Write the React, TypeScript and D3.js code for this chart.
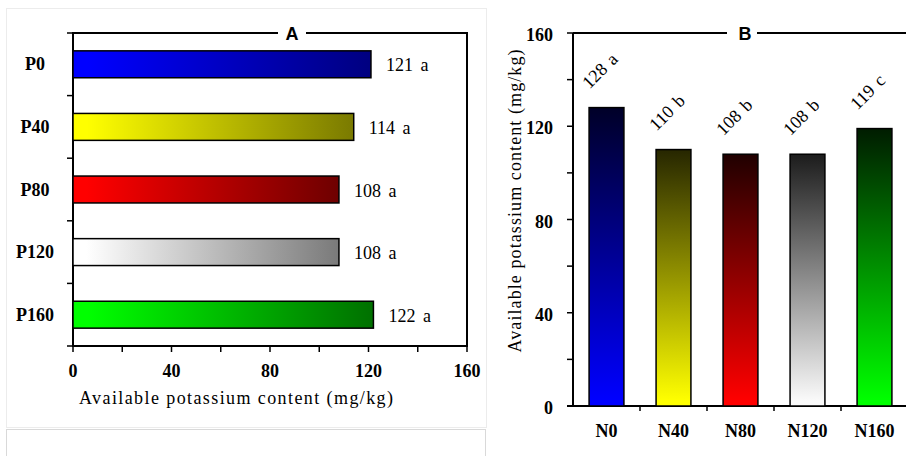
import React from 'react';
import * as d3 from 'd3';

// Panel A: phosphorus levels (horizontal bars)
const pCategories = ['P0', 'P40', 'P80', 'P120', 'P160'];
const pValues = [121, 114, 108, 108, 122];
const pLetters = ['a', 'a', 'a', 'a', 'a'];

// Panel B: nitrogen levels (vertical bars)
const nCategories = ['N0', 'N40', 'N80', 'N120', 'N160'];
const nValues = [128, 110, 108, 108, 119];
const nLetters = ['a', 'b', 'b', 'b', 'c'];

const majorTicks = [0, 40, 80, 120, 160];
const minorTicks = [20, 60, 100, 140];

// bright -> dark colour pairs for each bar
const BRIGHT = ['#0000ff', '#ffff00', '#ff0000', '#ffffff', '#00ff00'];
const DARK_A = ['#000080', '#7a7a00', '#6e0000', '#7a7a7a', '#007000'];
const DARK_B = ['#000028', '#262600', '#200000', '#1c1c1c', '#001c00'];

const SERIF = '"Liberation Serif", "Times New Roman", serif';
const SANS = '"Liberation Sans", Arial, sans-serif';

const App: React.FC = () => {
  // ---- panel A geometry
  const aLeft = 73, aRight = 467, aTop = 33, aBottom = 346;
  const xA = d3.scaleLinear().domain([0, 160]).range([aLeft, aRight]);
  const yA = d3.scaleBand<string>().domain(pCategories).range([aTop, aBottom]).paddingInner(0.57).paddingOuter(0.285);
  const bandA = (aBottom - aTop) / pCategories.length;

  // ---- panel B geometry
  const bLeft = 573, bRight = 908, bTop = 33, bBottom = 406;
  const yB = d3.scaleLinear().domain([0, 160]).range([bBottom, bTop]);
  const xB = d3.scaleBand<string>().domain(nCategories).range([bLeft, bRight]).paddingInner(0.48).paddingOuter(0.24);
  const bandB = (bRight - bLeft) / nCategories.length;

  return (
    <svg width={906} height={456} style={{ position: 'absolute', left: 0, top: 0, background: '#fff' }}>
      <defs>
        {BRIGHT.map((c, i) => (
          <linearGradient key={'ga' + i} id={'ga' + i} x1="0" y1="0" x2="1" y2="0">
            <stop offset="0.05" stopColor={c} />
            <stop offset="1" stopColor={DARK_A[i]} />
          </linearGradient>
        ))}
        {BRIGHT.map((c, i) => (
          <linearGradient key={'gb' + i} id={'gb' + i} x1="0" y1="1" x2="0" y2="0">
            <stop offset="0.02" stopColor={c === '#ffffff' ? '#fafafa' : c} />
            <stop offset="1" stopColor={DARK_B[i]} />
          </linearGradient>
        ))}
      </defs>

      {/* faint page frames */}
      <rect x={6.5} y={8.5} width={480} height={419} fill="none" stroke="#ececec" strokeWidth={1} />
      <rect x={6.5} y={429.5} width={479} height={40} fill="none" stroke="#d9d9d9" strokeWidth={1} />

      {/* ================= Panel A ================= */}
      <g>
        {/* frame with gap for title */}
        <path
          d={`M${306},${aTop} L${aRight},${aTop} L${aRight},${aBottom} L${aLeft},${aBottom} L${aLeft},${aTop} L${278},${aTop}`}
          fill="none" stroke="#000" strokeWidth={2}
        />
        <text x={292} y={39.5} textAnchor="middle" fontFamily={SANS} fontWeight="bold" fontSize={18}>A</text>

        {/* left ticks at band boundaries */}
        {d3.range(pCategories.length + 1).map(i => (
          <line key={'lt' + i} x1={aLeft - 6} x2={aLeft} y1={aTop + i * bandA} y2={aTop + i * bandA} stroke="#000" strokeWidth={1.5} />
        ))}
        {/* bottom ticks */}
        {majorTicks.concat(minorTicks).map(t => (
          <line key={'bt' + t} x1={xA(t)} x2={xA(t)} y1={aBottom} y2={aBottom + 6} stroke="#000" strokeWidth={1.5} />
        ))}
        {majorTicks.map(t => (
          <text key={'bl' + t} x={xA(t)} y={377} textAnchor="middle" fontFamily={SERIF} fontWeight="bold" fontSize={18}>{t}</text>
        ))}
        <text x={236} y={404} textAnchor="middle" fontFamily={SERIF} fontSize={18} textLength={314} lengthAdjust="spacing">
          Available potassium content (mg/kg)
        </text>

        {pCategories.map((c, i) => {
          const y = yA(c) as number;
          const h = yA.bandwidth();
          return (
            <g key={c}>
              <rect x={xA(0)} y={y} width={xA(pValues[i]) - xA(0)} height={h} fill={`url(#ga${i})`} stroke="#000" strokeWidth={1.5} />
              <text x={35} y={y + h / 2 + 6} textAnchor="middle" fontFamily={SERIF} fontWeight="bold" fontSize={18}>{c}</text>
              <text x={xA(pValues[i]) + 15} y={y + h / 2 + 7} fontFamily={SERIF} fontSize={18} wordSpacing={3}>
                {pValues[i]} {pLetters[i]}
              </text>
            </g>
          );
        })}
      </g>

      {/* ================= Panel B ================= */}
      <g>
        <path
          d={`M${bLeft},${bTop} L${727},${bTop} M${757},${bTop} L${906},${bTop}`}
          fill="none" stroke="#000" strokeWidth={2}
        />
        <line x1={bLeft} y1={bTop} x2={bLeft} y2={bBottom} stroke="#000" strokeWidth={2} />
        <line x1={bLeft - 6} y1={bBottom} x2={906} y2={bBottom} stroke="#000" strokeWidth={2} />
        <text x={745} y={39.5} textAnchor="middle" fontFamily={SANS} fontWeight="bold" fontSize={18}>B</text>

        {majorTicks.concat(minorTicks).map(t => (
          <line key={'yt' + t} x1={bLeft - 6} x2={bLeft} y1={yB(t)} y2={yB(t)} stroke="#000" strokeWidth={1.5} />
        ))}
        {majorTicks.map(t => (
          <text key={'yl' + t} x={553} y={yB(t) + 8} textAnchor="end" fontFamily={SERIF} fontWeight="bold" fontSize={18}>{t}</text>
        ))}
        {d3.range(1, nCategories.length + 1).map(i => (
          <line key={'xt' + i} x1={bLeft + i * bandB} x2={bLeft + i * bandB} y1={bBottom} y2={bBottom + 5} stroke="#000" strokeWidth={1.5} />
        ))}
        <text
          transform={`translate(521,201) rotate(-90)`}
          textAnchor="middle" fontFamily={SERIF} fontSize={18} textLength={303} lengthAdjust="spacing"
        >
          Available potassium content (mg/kg)
        </text>

        {nCategories.map((c, i) => {
          const x = xB(c) as number;
          const w = xB.bandwidth();
          const cx = x + w / 2;
          const top = yB(nValues[i]);
          return (
            <g key={c}>
              <rect x={x} y={top} width={w} height={yB(0) - top} fill={`url(#gb${i})`} stroke="#000" strokeWidth={1.5} />
              <text x={cx} y={437} textAnchor="middle" fontFamily={SERIF} fontWeight="bold" fontSize={18}>{c}</text>
              <text
                transform={`translate(${cx - 17},${top - 18}) rotate(-45)`}
                fontFamily={SERIF} fontSize={18} wordSpacing={2}
              >
                {nValues[i]} {nLetters[i]}
              </text>
            </g>
          );
        })}
      </g>
    </svg>
  );
};

export default App;
